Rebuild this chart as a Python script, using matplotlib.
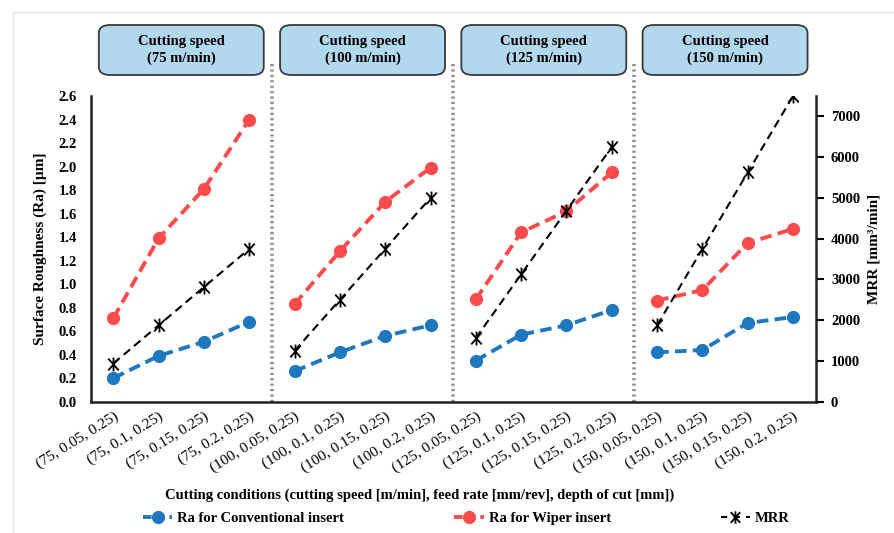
import matplotlib
matplotlib.use("Agg")
import matplotlib.pyplot as plt
from matplotlib.patches import FancyBboxPatch, Rectangle
from matplotlib.path import Path
from matplotlib.lines import Line2D
from matplotlib.transforms import blended_transform_factory
import numpy as np

plt.rcParams['font.family'] = ['Liberation Serif', 'DejaVu Serif']

# ---- data -------------------------------------------------------------
speeds = [75, 100, 125, 150]
feeds = [0.05, 0.1, 0.15, 0.2]
depth = 0.25
conditions = [f"({s}, {f:g}, {depth:g})" for s in speeds for f in feeds]

ra_conventional = [0.20, 0.39, 0.51, 0.68,
                   0.26, 0.42, 0.56, 0.65,
                   0.35, 0.57, 0.65, 0.78,
                   0.42, 0.44, 0.67, 0.72]
ra_wiper = [0.71, 1.39, 1.81, 2.40,
            0.83, 1.28, 1.70, 1.99,
            0.87, 1.44, 1.62, 1.95,
            0.86, 0.95, 1.35, 1.47]
mrr = [937.5, 1875, 2812.5, 3750,
       1250, 2500, 3750, 5000,
       1562.5, 3125, 4687.5, 6250,
       1875, 3750, 5625, 7500]

header_labels = [f"Cutting speed\n({s} m/min)" for s in speeds]

# ---- styling ----------------------------------------------------------
c_conv = '#1f77c0'
c_wiper = '#ff4b4b'
c_mrr = 'black'
grid_gray = '#8f8f8f'

# asterisk-like marker: vertical bar plus an X
star_path = Path(
    [(0, -1), (0, 1), (-0.75, -0.85), (0.75, 0.85), (-0.75, 0.85), (0.75, -0.85)],
    [Path.MOVETO, Path.LINETO, Path.MOVETO, Path.LINETO, Path.MOVETO, Path.LINETO])

fig = plt.figure(figsize=(8.95, 5.33), dpi=100)
ax = fig.add_axes([0.1013, 0.2463, 0.8101, 0.5736])
ax2 = ax.twinx()

x = np.arange(len(conditions))
n = len(feeds)
for g in range(len(speeds)):
    sl = slice(g * n, (g + 1) * n)
    ax.plot(x[sl], ra_conventional[sl], color=c_conv, lw=2.8, ls=(0, (3, 1.6)),
            marker='o', ms=8.5, zorder=4)
    ax.plot(x[sl], ra_wiper[sl], color=c_wiper, lw=2.8, ls=(0, (3, 1.6)),
            marker='o', ms=8.5, zorder=4)
    ax2.plot(x[sl], mrr[sl], color=c_mrr, lw=1.5, ls=(0, (4, 2.5)),
             marker=star_path, ms=10, mew=1.3, zorder=5)

ax.set_xlim(-0.5, len(conditions) - 0.5)
ax.set_ylim(0, 2.6)
ax.set_yticks(np.arange(0, 2.61, 0.2))
ax.set_yticklabels([f"{v:.1f}" for v in np.arange(0, 2.61, 0.2)])
ax2.set_ylim(0, 7500)
ax2.set_yticks(np.arange(0, 7001, 1000))

ax.set_xticks(x)
ax.set_xticklabels(conditions, rotation=32, ha='right', rotation_mode='anchor',
                   fontsize=11)
ax.tick_params(axis='x', length=0, pad=6)
ax.tick_params(axis='y', length=0, pad=10, labelsize=10.5)
ax2.tick_params(axis='y', length=6, width=1.5, pad=5, labelsize=10.5, direction='out')
for lab in ax.get_yticklabels() + ax2.get_yticklabels():
    lab.set_fontweight('bold')

for a in (ax, ax2):
    a.spines['top'].set_visible(False)
    for s in ('left', 'bottom', 'right'):
        a.spines[s].set_linewidth(1.8)
        a.spines[s].set_color('#222222')
ax.spines['right'].set_visible(False)
ax2.spines['left'].set_visible(False)
ax2.spines['bottom'].set_visible(False)

ax.set_ylabel("Surface Roughness (Ra) [µm]", fontsize=11, fontweight='bold')
ax.yaxis.set_label_coords(-0.06, 0.5)
ax2.set_ylabel("MRR [mm³/min]", fontsize=11, fontweight='bold')
ax2.yaxis.set_label_coords(1.072, 0.5)

# dotted separators between cutting-speed groups
for g in range(1, len(speeds)):
    ax.axvline(g * n - 0.5, ymin=0, ymax=1.108, color=grid_gray, lw=2.6,
               ls=(0, (0.6, 0.9)), clip_on=False, zorder=1)

# group headers
trans = blended_transform_factory(ax.transData, fig.transFigure)
box_w = 3.64
y0_box, h_box = 1 - 75 / 533, 50 / 533
for g, lab in enumerate(header_labels):
    cx = g * n + (n - 1) / 2
    box = FancyBboxPatch((cx - box_w / 2, y0_box), box_w, h_box,
                         boxstyle="round,pad=0,rounding_size=0.25",
                         mutation_aspect=0.06,
                         transform=trans, facecolor='#b2d8ee', edgecolor='#3a3a3a',
                         lw=1.3, clip_on=False)
    fig.add_artist(box)
    fig.text(cx, y0_box + h_box / 2, lab, transform=trans, ha='center', va='center',
             fontsize=10.5, fontweight='bold', linespacing=1.3)

fig.text(420 / 895, 1 - 495 / 533,
         "Cutting conditions (cutting speed [m/min], feed rate [mm/rev], depth of cut [mm])",
         ha='center', va='center', fontsize=10.5, fontweight='bold')

handles = [
    Line2D([], [], color=c_conv, lw=2.8, ls=(0, (2.2, 1.2)), marker='o', ms=8.5),
    Line2D([], [], color=c_wiper, lw=2.8, ls=(0, (2.2, 1.2)), marker='o', ms=8.5),
    Line2D([], [], color=c_mrr, lw=1.5, ls=(0, (3, 3)), marker=star_path, ms=9, mew=1.3),
]
labels = ["Ra for Conventional insert", "Ra for Wiper insert", "MRR"]
fig.legend(handles, labels, loc='center left', bbox_to_anchor=(130 / 895, 1 - 518 / 533),
           ncol=3, frameon=False, handlelength=2.0, handletextpad=0.35,
           columnspacing=7.55, prop={'weight': 'bold', 'size': 10.5})

# thin page frame
fig.add_artist(Rectangle((13 / 895, -0.1), 2, 0.1 + 1 - 12 / 533,
                         transform=fig.transFigure, fill=False,
                         edgecolor='#e4e4e4', lw=1.0, clip_on=False))

fig.savefig("out.png", dpi=100)
